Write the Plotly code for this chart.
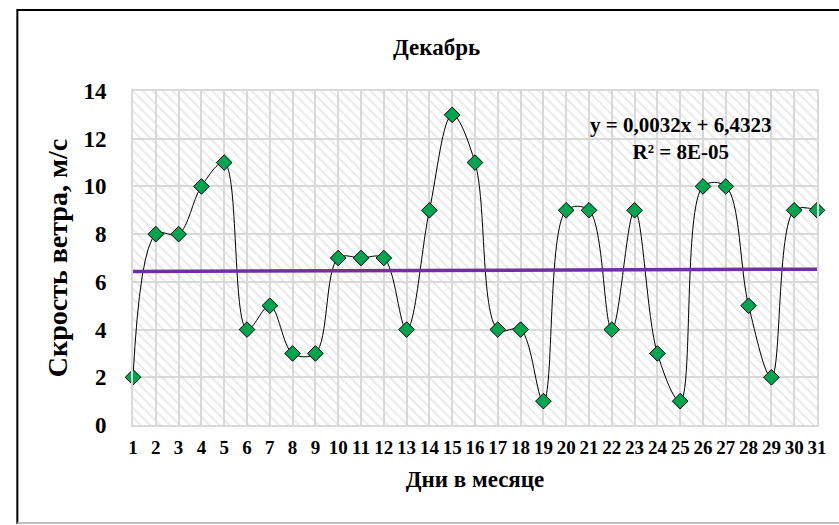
import numpy as np
import plotly.graph_objects as go

days = list(range(1, 32))
wind = [2, 8, 8, 10, 11, 4, 5, 3, 3, 7, 7, 7, 4, 9, 13, 11, 4, 4, 1, 9, 9, 4, 9, 3, 1, 10, 10, 5, 2, 9, 9]
y_ticks = [0, 2, 4, 6, 8, 10, 12, 14]
title_text = "Декабрь"
y_title = "Скрость ветра, м/с"
x_title = "Дни в месяце"
eq_text = "y = 0,0032x + 6,4323<br>R² = 8E-05"

W, H = 839, 525
L, R, T, B = 133, 20, 91, 100
FONT = "Liberation Serif"

slope, intercept = np.polyfit(days, wind, 1)
trend_x = [days[0], days[-1]]
trend_y = [intercept + slope * x for x in trend_x]

fig = go.Figure()

# hatched plot-area background
fig.add_trace(go.Scatter(
    x=[days[0], days[-1], days[-1], days[0], days[0]],
    y=[y_ticks[0], y_ticks[0], y_ticks[-1], y_ticks[-1], y_ticks[0]],
    mode="lines", line=dict(width=0), fill="toself",
    fillcolor="rgba(0,0,0,0)",
    fillpattern=dict(shape="\\", fgcolor="#D6D6D6", bgcolor="rgba(0,0,0,0)",
                     size=7, solidity=0.3),
    hoverinfo="skip", showlegend=False))

fig.add_trace(go.Scatter(
    x=days, y=wind, mode="lines+markers",
    line=dict(color="black", width=1, shape="spline", smoothing=1),
    marker=dict(symbol="diamond", size=12, color="#00A550",
                line=dict(color="black", width=1)),
    cliponaxis=False, showlegend=False))

fig.add_trace(go.Scatter(
    x=trend_x, y=trend_y, mode="lines",
    line=dict(color="#7030A0", width=3.5), showlegend=False))

fig.update_layout(
    width=W, height=H,
    margin=dict(l=L, r=R, t=T, b=B),
    paper_bgcolor="white", plot_bgcolor="white",
    font=dict(family=FONT, color="black"),
    showlegend=False,
)

fig.update_xaxes(
    range=[days[0], days[-1]], tickmode="array", tickvals=days,
    ticktext=[str(d) for d in days],
    tickfont=dict(family=FONT, size=19, color="black", weight="bold"),
    showgrid=True, gridcolor="#D9D9D9", gridwidth=2,
    showline=True, linecolor="#D9D9D9", linewidth=2, mirror=True,
    ticks="", ticklabelstandoff=4, zeroline=False,
    title=dict(text=x_title, font=dict(family=FONT, size=23, color="black", weight="bold"),
               standoff=14),
)
fig.update_yaxes(
    range=[y_ticks[0], y_ticks[-1]], tickmode="array", tickvals=y_ticks,
    tickfont=dict(family=FONT, size=23, color="black", weight="bold"),
    showgrid=True, gridcolor="#D9D9D9", gridwidth=2,
    showline=True, linecolor="#D9D9D9", linewidth=2, mirror=True,
    ticks="", ticklabelstandoff=20, zeroline=False,
    title=dict(text=y_title, font=dict(family=FONT, size=28, color="black", weight="bold"),
               standoff=8),
)

# outer chart border
fig.add_shape(type="rect", xref="paper", yref="paper",
              x0=(17 - L) / (W - L - R), x1=(860 - L) / (W - L - R),
              y0=(H - B - 523) / (H - T - B), y1=(H - B - 10) / (H - T - B),
              line=dict(color="black", width=2), fillcolor="rgba(0,0,0,0)", layer="below")
fig.add_shape(type="line", xref="paper", yref="paper",
              x0=(17 - L) / (W - L - R), x1=(860 - L) / (W - L - R),
              y0=(H - B - 523) / (H - T - B), y1=(H - B - 523) / (H - T - B),
              line=dict(color="#BFBFBF", width=2))

fig.add_annotation(text=title_text, xref="paper", yref="paper",
                   x=(437 - L) / (W - L - R), y=(H - B - 47) / (H - T - B),
                   showarrow=False, xanchor="center", yanchor="middle",
                   font=dict(family=FONT, size=23, color="black", weight="bold"))
fig.add_annotation(text=eq_text, xref="paper", yref="paper",
                   x=(682 - L) / (W - L - R), y=(H - B - 138) / (H - T - B),
                   showarrow=False, xanchor="center", yanchor="middle", align="center",
                   font=dict(family=FONT, size=21, color="black", weight="bold"))

fig.write_html("out.html")
